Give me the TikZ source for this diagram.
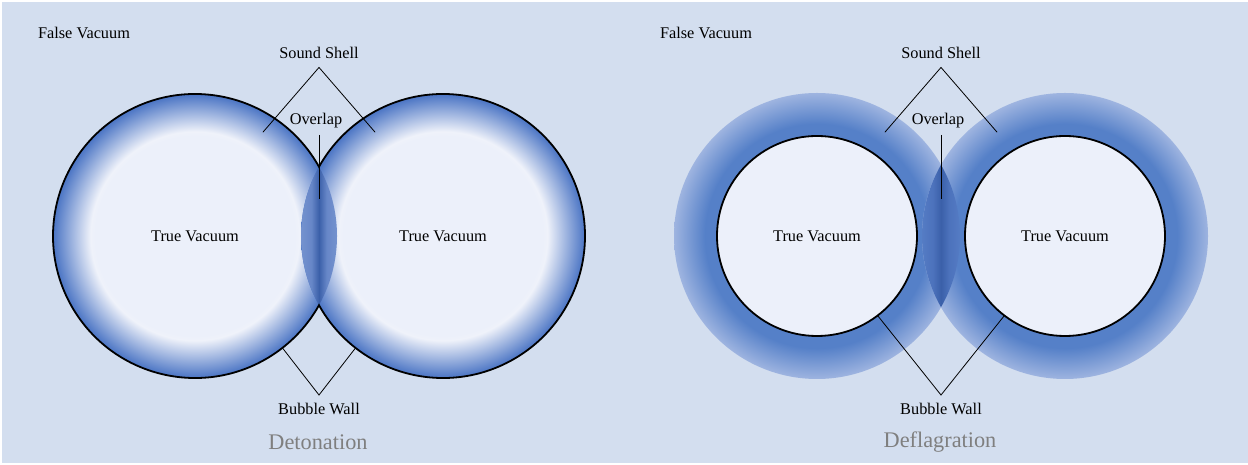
\documentclass[tikz,border=0pt]{standalone}
\usepackage{fontspec}
\setmainfont{Liberation Serif}
\usepackage{tikz}
\usetikzlibrary{calc}

\definecolor{bgblue}{HTML}{D3DEEF}
\definecolor{vaclight}{HTML}{ECF0FA}
\definecolor{vacwhite}{HTML}{EFF2FA}
\definecolor{wallblue}{HTML}{4A74C4}
\definecolor{shellblue}{HTML}{5580C8}
\definecolor{shellfade}{HTML}{9EB4E0}
\definecolor{lensdark}{HTML}{3B60A9}
\definecolor{lensdet}{HTML}{7C98D2}
\definecolor{lensdetmid}{HTML}{6787C8}
\definecolor{lensdef}{HTML}{5A81C9}
\definecolor{lensdefmid}{HTML}{4C72BC}
\definecolor{titlegray}{HTML}{7F7F7F}

\pgfdeclareradialshading{detbubble}{\pgfpoint{0bp}{0bp}}{color(0bp)=(vaclight); color(17.6bp)=(vaclight); color(18.4bp)=(vacwhite); color(25bp)=(wallblue); color(50bp)=(wallblue)}
\pgfdeclareradialshading{defshell}{\pgfpoint{0bp}{0bp}}{color(0bp)=(shellblue); color(19.6bp)=(shellblue); color(25bp)=(shellfade); color(50bp)=(shellfade)}
\pgfdeclarehorizontalshading{detlens}{100bp}{color(0bp)=(lensdet); color(25bp)=(lensdet); color(42bp)=(lensdetmid); color(50bp)=(lensdark); color(58bp)=(lensdetmid); color(75bp)=(lensdet); color(100bp)=(lensdet)}
\pgfdeclarehorizontalshading{deflens}{100bp}{color(0bp)=(lensdef); color(25bp)=(lensdef); color(42bp)=(lensdefmid); color(50bp)=(lensdark); color(58bp)=(lensdefmid); color(75bp)=(lensdef); color(100bp)=(lensdef)}

\begin{document}
\begin{tikzpicture}[x=1pt,y=1pt,
  lbl/.style={font=\fontsize{16.3}{19}\selectfont, text=black, inner sep=0pt},
  ttl/.style={font=\fontsize{22.3}{26}\selectfont, text=titlegray, inner sep=0pt},
  pointer/.style={line width=0.8pt, black},
  wall/.style={line width=1.8pt, black}]
\useasboundingbox (0,0) rectangle (1248,465);
\fill[bgblue] (2,2) rectangle (1248,463);
%detonation
\coordinate (detL) at (195,229);
\coordinate (detR) at (443,229);
\coordinate (detT) at (319,298.2);
\shade[shading=detbubble] (detL) circle[radius=142pt];
\shade[shading=detbubble] (detR) circle[radius=142pt];
\shade[shading=detlens] (detT) arc[start angle=150.83,end angle=209.17,radius=142pt]
  arc[start angle=-29.17,end angle=29.17,radius=142pt] -- cycle;
\draw[wall] (detT) arc[start angle=29.17,end angle=330.83,radius=142pt]
  arc[start angle=209.17,end angle=510.83,radius=142pt] -- cycle;
\node[lbl] (detfalse) at (84,432) {False Vacuum};
\node[lbl] (dettrueL) at (detL) {True Vacuum};
\node[lbl] (dettrueR) at (detR) {True Vacuum};
\node[lbl] (detshell) at (319,412) {Sound Shell};
\node[lbl] (detover) at (316,344) {Overlap};
\node[lbl] (detwall) at (319,56) {Bubble Wall};
\node[ttl] (detname) at (318,23) {Detonation};
\coordinate (detshelltip) at ([yshift=-8.5pt]detshell.south);
\coordinate (detshellA) at ($(detL)+(56.8:124pt)$);
\coordinate (detshellB) at ($(detR)+(123.2:124pt)$);
\draw[pointer] (detshellA) -- (detshelltip) -- (detshellB);
\coordinate (detovertop) at (319,330);
\coordinate (detoverend) at (319,266);
\draw[pointer] (detovertop) -- (detoverend);
\coordinate (detwalltip) at ([yshift=8pt]detwall.north);
\coordinate (detwallA) at ($(detL)+(-52:142pt)$);
\coordinate (detwallB) at ($(detR)+(232:142pt)$);
\draw[pointer] (detwallA) -- (detwalltip) -- (detwallB);
%deflagration
\coordinate (defL) at (817,229);
\coordinate (defR) at (1065,229);
\coordinate (defT) at (941,300.2);
\shade[shading=defshell] (defL) circle[radius=143pt];
\shade[shading=defshell] (defR) circle[radius=143pt];
\shade[shading=deflens] (defT) arc[start angle=150.14,end angle=209.86,radius=143pt]
  arc[start angle=-29.86,end angle=29.86,radius=143pt] -- cycle;
\draw[wall,fill=vaclight] (defL) circle[radius=100pt];
\draw[wall,fill=vaclight] (defR) circle[radius=100pt];
\node[lbl] (deffalse) at (706,432) {False Vacuum};
\node[lbl] (deftrueL) at (defL) {True Vacuum};
\node[lbl] (deftrueR) at (defR) {True Vacuum};
\node[lbl] (defshell) at (941,412) {Sound Shell};
\node[lbl] (defover) at (938,344) {Overlap};
\node[lbl] (defwall) at (941,56) {Bubble Wall};
\node[ttl] (defname) at (940,23) {Deflagration};
\coordinate (defshelltip) at ([yshift=-8.5pt]defshell.south);
\coordinate (defshellA) at ($(defL)+(56.8:124pt)$);
\coordinate (defshellB) at ($(defR)+(123.2:124pt)$);
\draw[pointer] (defshellA) -- (defshelltip) -- (defshellB);
\coordinate (defovertop) at (941,330);
\coordinate (defoverend) at (941,266);
\draw[pointer] (defovertop) -- (defoverend);
\coordinate (defwalltip) at ([yshift=8pt]defwall.north);
\coordinate (defwallA) at ($(defL)+(-52.7:100pt)$);
\coordinate (defwallB) at ($(defR)+(232.7:100pt)$);
\draw[pointer] (defwallA) -- (defwalltip) -- (defwallB);
\end{tikzpicture}
\end{document}
